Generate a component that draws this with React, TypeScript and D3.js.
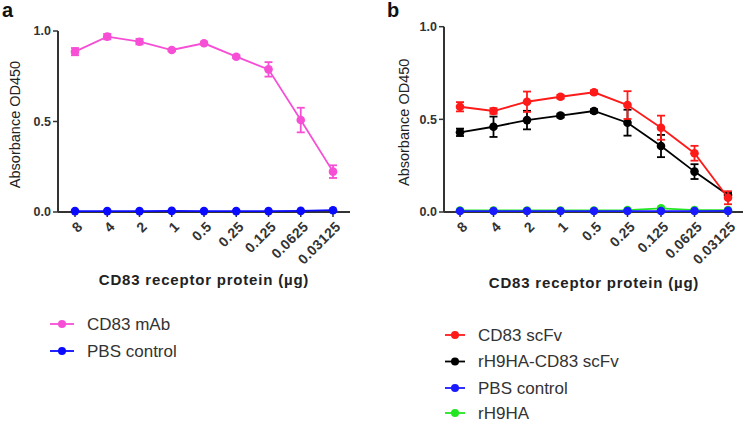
import React from "react";
import * as d3 from "d3";

const categories = ["8", "4", "2", "1", "0.5", "0.25", "0.125", "0.0625", "0.03125"];
const yTicks = [0, 0.5, 1.0];

// Panel a
const mAbMean = [0.886, 0.969, 0.941, 0.895, 0.932, 0.858, 0.788, 0.508, 0.223];
const mAbErr = [0.02, 0.015, 0.015, 0.006, 0.006, 0.008, 0.04, 0.068, 0.035];
const pbsAMean = [0.005, 0.005, 0.005, 0.006, 0.005, 0.005, 0.005, 0.006, 0.01];
const pbsAErr = [0, 0, 0, 0, 0, 0, 0, 0, 0];

// Panel b
const scFvMean = [0.568, 0.545, 0.595, 0.622, 0.646, 0.577, 0.455, 0.317, 0.077];
const scFvErr = [0.025, 0.015, 0.055, 0.01, 0.01, 0.075, 0.065, 0.04, 0.035];
const fusionMean = [0.43, 0.46, 0.496, 0.52, 0.545, 0.482, 0.356, 0.218, 0.092];
const fusionErr = [0.02, 0.055, 0.05, 0.01, 0.01, 0.07, 0.06, 0.04, 0.012];
const pbsBMean = [0.005, 0.005, 0.005, 0.005, 0.005, 0.005, 0.005, 0.005, 0.006];
const pbsBErr = [0, 0, 0, 0, 0, 0, 0, 0, 0];
const rH9HAMean = [0.008, 0.008, 0.008, 0.008, 0.008, 0.01, 0.02, 0.01, 0.01];
const rH9HAErr = [0, 0, 0, 0, 0, 0, 0.005, 0, 0];

const FONT = "Arial, 'Liberation Sans', Helvetica, sans-serif";

type Series = { name: string; color: string; mean: number[]; err: number[] };

const seriesA: Series[] = [
  { name: "CD83 mAb", color: "#f64fd6", mean: mAbMean, err: mAbErr },
  { name: "PBS control", color: "#0a0aff", mean: pbsAMean, err: pbsAErr },
];
const legendA = seriesA;

const seriesB: Series[] = [
  { name: "rH9HA-CD83 scFv", color: "#000000", mean: fusionMean, err: fusionErr },
  { name: "CD83 scFv", color: "#ff1a1a", mean: scFvMean, err: scFvErr },
  { name: "rH9HA", color: "#22e622", mean: rH9HAMean, err: rH9HAErr },
  { name: "PBS control", color: "#1a1aff", mean: pbsBMean, err: pbsBErr },
];
const legendB = [seriesB[1], seriesB[0], seriesB[3], seriesB[2]];

type PanelProps = {
  label: string;
  labelX: number;
  axisX: number;
  axisEnd: number;
  yTop: number;
  yBottom: number;
  xFirst: number;
  xLast: number;
  yTitleX: number;
  series: Series[];
  legend: Series[];
  legendY: number[];
  legendX: number;
  legendLineW: number;
  titleY: number;
};

function Panel(p: PanelProps) {
  const x = d3.scalePoint<string>().domain(categories).range([p.xFirst, p.xLast]);
  const y = d3.scaleLinear().domain([0, 1]).range([p.yBottom, p.yTop]);
  const line = d3
    .line<number>()
    .x((_, i) => x(categories[i]) as number)
    .y((d) => y(d));
  const axisColor = "#333";
  return (
    <g>
      <text x={p.labelX} y={17} fontFamily={FONT} fontWeight="bold" fontSize={20} fill="#111">
        {p.label}
      </text>
      {/* y axis */}
      <line x1={p.axisX} x2={p.axisX} y1={y(1)} y2={y(0)} stroke={axisColor} strokeWidth={2} />
      {yTicks.map((t) => (
        <g key={t}>
          <line x1={p.axisX - 5} x2={p.axisX} y1={y(t)} y2={y(t)} stroke={axisColor} strokeWidth={1.5} />
          <text
            x={p.axisX - 7}
            y={y(t)}
            dy="0.35em"
            textAnchor="end"
            fontFamily={FONT}
            fontWeight="bold"
            fontSize={12.5}
            fill="#333"
          >
            {t.toFixed(1)}
          </text>
        </g>
      ))}
      <text
        transform={`translate(${p.yTitleX},${(y(0) + y(1)) / 2 + 3}) rotate(-90)`}
        textAnchor="middle"
        dy="0.35em"
        fontFamily={FONT}
        fontSize={14.5}
        fill="#222"
      >
        Absorbance OD450
      </text>
      {/* x axis */}
      <line x1={p.axisX} x2={p.axisEnd} y1={y(0)} y2={y(0)} stroke={axisColor} strokeWidth={2} />
      {categories.map((c) => (
        <g key={c}>
          <line x1={x(c)} x2={x(c)} y1={y(0)} y2={y(0) + 5} stroke={axisColor} strokeWidth={1.5} />
          <text
            transform={`translate(${(x(c) as number) + 5},${y(0) + 12}) rotate(-45)`}
            textAnchor="end"
            dy="0.35em"
            fontFamily={FONT}
            fontWeight="bold"
            fontSize={14}
            letterSpacing={0.4}
            fill="#333"
          >
            {c}
          </text>
        </g>
      ))}
      <text
        x={(p.xFirst + p.xLast) / 2}
        y={p.titleY}
        textAnchor="middle"
        fontFamily={FONT}
        fontWeight="bold"
        fontSize={15}
        letterSpacing={0.8}
        fill="#222"
      >
        CD83 receptor protein (µg)
      </text>
      {/* series */}
      {p.series.map((s) => (
        <g key={s.name}>
          <path d={line(s.mean) || ""} fill="none" stroke={s.color} strokeWidth={1.8} />
          {s.mean.map((m, i) => {
            const cx = x(categories[i]) as number;
            const e = s.err[i];
            return (
              <g key={i}>
                {e > 0 && (
                  <g stroke={s.color} strokeWidth={1.8}>
                    <line x1={cx} x2={cx} y1={y(m - e)} y2={y(m + e)} />
                    <line x1={cx - 4} x2={cx + 4} y1={y(m - e)} y2={y(m - e)} />
                    <line x1={cx - 4} x2={cx + 4} y1={y(m + e)} y2={y(m + e)} />
                  </g>
                )}
                <circle cx={cx} cy={y(m)} r={4.3} fill={s.color} />
              </g>
            );
          })}
        </g>
      ))}
      {/* legend */}
      {p.legend.map((s, i) => (
        <g key={s.name}>
          <line
            x1={p.legendX}
            x2={p.legendX + p.legendLineW}
            y1={p.legendY[i]}
            y2={p.legendY[i]}
            stroke={s.color}
            strokeWidth={1.8}
          />
          <circle cx={p.legendX + p.legendLineW / 2} cy={p.legendY[i]} r={4} fill={s.color} />
          <text
            x={p.legendX + p.legendLineW + 13}
            y={p.legendY[i]}
            dy="0.35em"
            fontFamily={FONT}
            fontSize={17}
            fill="#333"
          >
            {s.name}
          </text>
        </g>
      ))}
    </g>
  );
}

export default function App() {
  return (
    <svg width={747} height={422} style={{ position: "absolute", left: 0, top: 0, background: "#fff" }}>
      <rect width={747} height={422} fill="#fff" />
      <Panel
        label="a"
        labelX={2}
        axisX={58}
        axisEnd={350}
        yTop={31}
        yBottom={212}
        xFirst={75}
        xLast={333}
        yTitleX={15}
        series={seriesA}
        legend={legendA}
        legendY={[324, 351]}
        legendX={50}
        legendLineW={24}
        titleY={285}
      />
      <Panel
        label="b"
        labelX={387}
        axisX={444}
        axisEnd={743}
        yTop={26.7}
        yBottom={212}
        xFirst={460}
        xLast={728}
        yTitleX={404}
        series={seriesB}
        legend={legendB}
        legendY={[335, 361.5, 388, 413]}
        legendX={445}
        legendLineW={20}
        titleY={288}
      />
    </svg>
  );
}
